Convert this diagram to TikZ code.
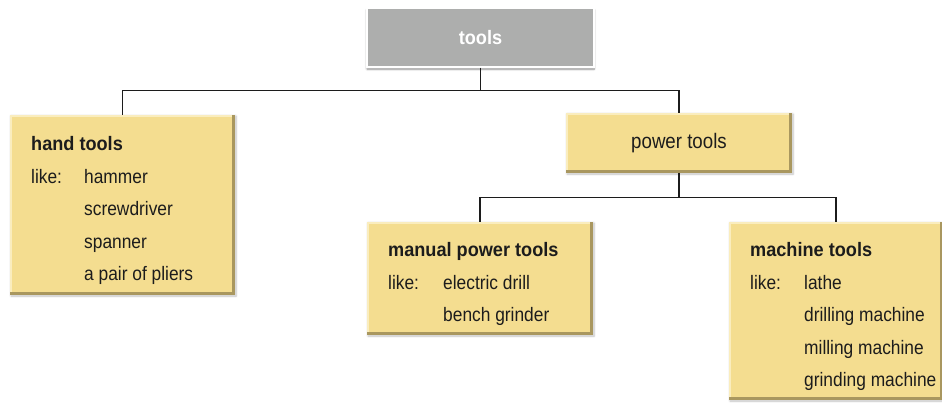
\documentclass[tikz,border=0pt]{standalone}
\usepackage{fontspec}
\setmainfont{Liberation Sans}[FakeStretch=0.89, BoldFeatures={FakeStretch=0.93}]
\usetikzlibrary{shadows.blur}

\definecolor{toolgray}{HTML}{ADAEAD}
\definecolor{cardfill}{HTML}{F4DD90}
\definecolor{cardedge}{HTML}{A9975F}
\definecolor{cardlight}{HTML}{FAEDBE}
\definecolor{inkdark}{HTML}{1C1C1C}

\tikzset{
  card/.style={fill=cardfill, inner sep=0pt,
    blur shadow={shadow xshift=1pt, shadow yshift=-1pt, shadow blur steps=6, shadow opacity=25},
    path picture={
      % bevel: light top/left, dark bottom/right
      \fill[cardlight] (path picture bounding box.north west) rectangle ([yshift=-2pt]path picture bounding box.north east);
      \fill[cardlight] (path picture bounding box.north west) rectangle ([xshift=2pt]path picture bounding box.south west);
      \fill[cardedge] (path picture bounding box.south west) rectangle ([yshift=3pt]path picture bounding box.south east);
      \fill[cardedge] ([xshift=-3pt]path picture bounding box.south east) rectangle (path picture bounding box.north east);
    }},
  label text/.style={anchor=base west, inner sep=0pt, text=inkdark, font=\fontsize{19.5}{23}\selectfont},
  title text/.style={label text, font=\fontsize{19.5}{23}\selectfont\bfseries},
  link/.style={line width=1.4pt, inkdark}
}

\begin{document}
\begin{tikzpicture}[x=1pt, y=1pt]
  \useasboundingbox (0,0) rectangle (942,-402);

  % top box
  \node[fill=toolgray, draw=white, line width=1.5pt, minimum width=227, minimum height=59,
        blur shadow={shadow xshift=0pt, shadow yshift=-2pt, shadow blur steps=8, shadow opacity=45},
        text=white, font=\fontsize{19.5}{23}\selectfont\bfseries] (tools) at (480.5,-37.5) {tools};

  % boxes
  \node[card, minimum width=225, minimum height=180] (hand) at (122.5,-205) {};
  \node[card, minimum width=226, minimum height=60, text=inkdark, font=\fontsize{21}{25}\selectfont] (power) at (679,-143) {power tools};
  \node[card, minimum width=226, minimum height=113] (manual) at (480,-278.5) {};
  \node[card, minimum width=214, minimum height=178] (machine) at (836,-311) {};

  % connectors
  \draw[link] (tools.south) -- ++(0,-23) -| (hand.north);
  \draw[link] (tools.south) -- ++(0,-23) -| (power.north);
  \draw[link] (power.south) -- ++(0,-24) -| (manual.north);
  \draw[link] (power.south) -- ++(0,-24) -| (machine.north);

  % hand tools
  \node[title text] (hand-title) at (31,-150) {hand tools};
  \node[label text] (hand-like) at (31,-183) {like:};
  \foreach \name [count=\i] in {hammer, screwdriver, spanner, a pair of pliers}
    \node[label text] (hand-\i) at (84,{-183-32.5*(\i-1)}) {\name};

  % manual power tools
  \node[title text] (manual-title) at (388,-256) {manual power tools};
  \node[label text] (manual-like) at (388,-289) {like:};
  \foreach \name [count=\i] in {electric drill, bench grinder}
    \node[label text] (manual-\i) at (443,{-289-32.5*(\i-1)}) {\name};

  % machine tools
  \node[title text] (machine-title) at (750,-256) {machine tools};
  \node[label text] (machine-like) at (750,-289) {like:};
  \foreach \name [count=\i] in {lathe, drilling machine, milling machine, grinding machine}
    \node[label text] (machine-\i) at (804,{-289-32.5*(\i-1)}) {\name};
\end{tikzpicture}
\end{document}
